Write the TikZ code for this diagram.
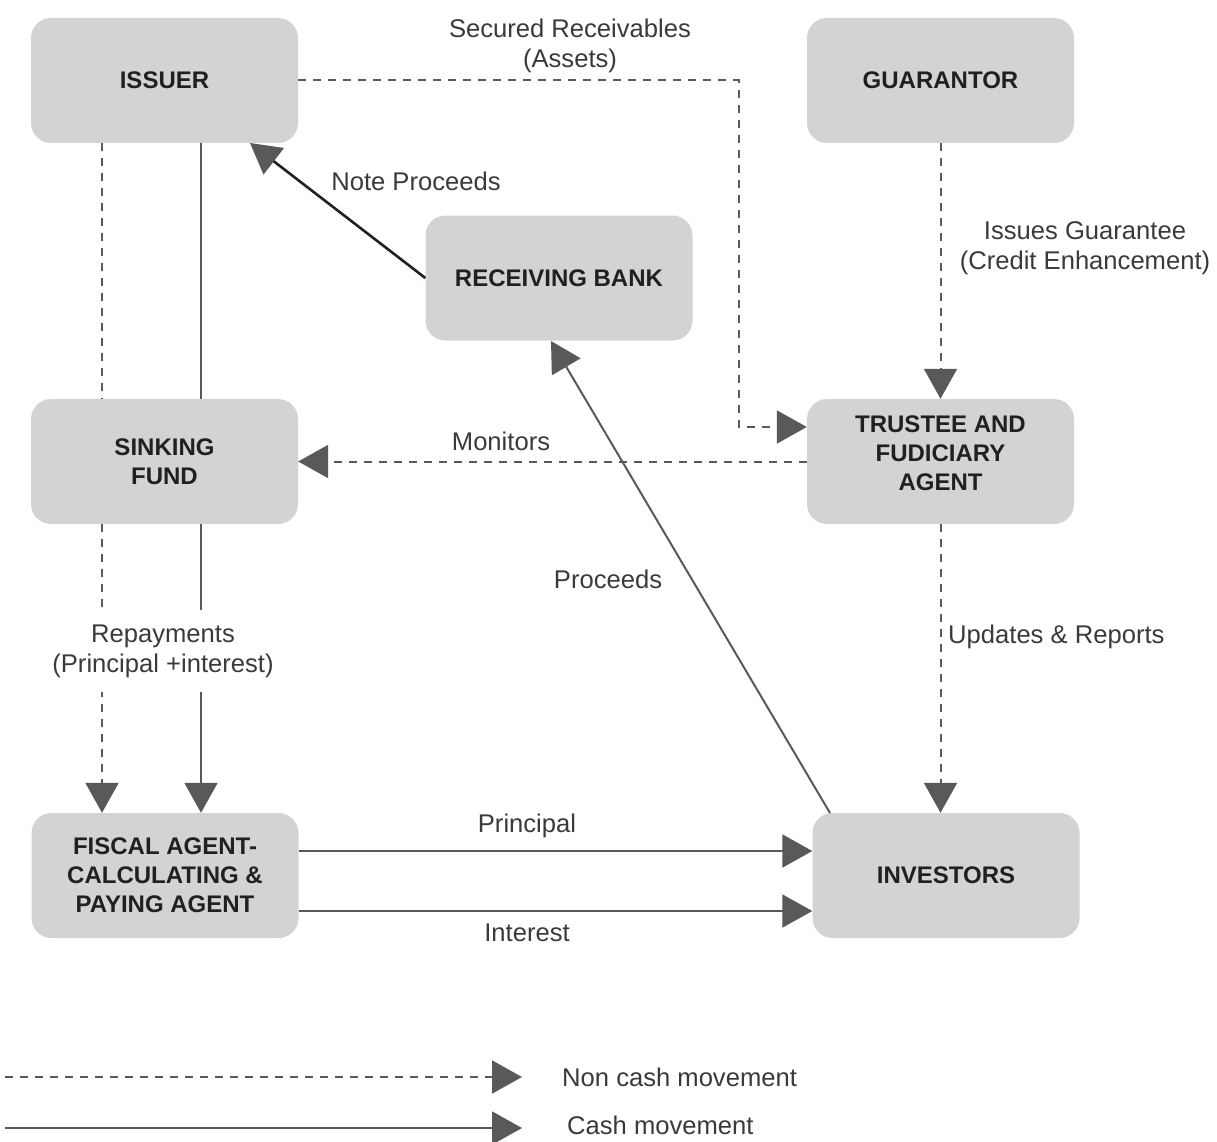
\documentclass[tikz,border=0pt]{standalone}
\usepackage{fontspec}
\setmainfont{Liberation Sans}
\usetikzlibrary{arrows.meta,calc}
\definecolor{boxgray}{HTML}{D1D3D4}
\definecolor{linegray}{HTML}{58595B}
\definecolor{txtdark}{HTML}{231F20}
\definecolor{lblcol}{HTML}{3A3A3A}
\begin{document}
\begin{tikzpicture}[x=1pt,y=-1pt,
  box/.style={rounded corners=20pt, fill=boxgray, minimum width=267pt, minimum height=125pt,
    align=center, font=\fontsize{24}{29}\selectfont\bfseries, text=txtdark, inner sep=0pt},
  boxtext/.style={align=center, font=\fontsize{24}{29}\selectfont\bfseries, text=txtdark, inner sep=0pt},
  lbl/.style={font=\fontsize{25.6}{30}\selectfont, text=lblcol, inner sep=0pt, align=center},
  tip/.style={-{Triangle[length=30pt,width=33pt,fill=linegray,color=linegray]}},
  cash/.style={draw=linegray, line width=2pt},
  noncash/.style={draw=linegray, line width=2pt, dash pattern=on 8pt off 7pt},
  darkcash/.style={draw=txtdark, line width=2.6pt}
]
\useasboundingbox (0,0) rectangle (1217,1142);

% boxes
\node[box] (issuer) at (164.5,80.5) {ISSUER};
\node[box] (guar) at (940.5,80.5) {GUARANTOR};
\node[box] (rb) at (559,278) {RECEIVING BANK};
\node[box] (sink) at (164.5,461.5) {SINKING\\FUND};
\node[box] (trustee) at (940.5,461.5) {};
\node[boxtext] (trusteetext) at (940.5,453) {TRUSTEE AND\\FUDICIARY\\AGENT};
\node[box] (fiscal) at (165,875.5) {FISCAL AGENT-\\CALCULATING \&\\PAYING AGENT};
\node[box] (inv) at (946,875.5) {INVESTORS};

% helper coordinates
\coordinate (bend) at (739,427);
\coordinate (nptip) at (250,143);
\coordinate (pstart) at (830,813);
\coordinate (ptip) at (551,341);
\coordinate (dx) at (102,0);
\coordinate (sx) at (201,0);
\coordinate (prl) at (0,851);
\coordinate (intl) at (0,911);

% connectors
\draw[noncash,tip] (issuer.east) -| (bend) -- (bend -| trustee.west);
\draw[noncash,tip] (guar.south) -- (trustee.north);
\draw[darkcash,tip] (rb.west) -- (nptip);
\draw[cash,tip] (pstart) -- (ptip);
\draw[noncash,tip] (trustee.west) -- (sink.east);
\draw[noncash,tip] (trustee.south) -- (trustee.south |- inv.north);
\draw[noncash] (issuer.south -| dx) -- (sink.north -| dx);
\draw[cash] (issuer.south -| sx) -- (sink.north -| sx);
\draw[noncash,tip] (sink.south -| dx) -- (fiscal.north -| dx);
\draw[cash,tip] (sink.south -| sx) -- (fiscal.north -| sx);
\draw[cash,tip] (fiscal.east |- prl) -- (inv.west |- prl);
\draw[cash,tip] (fiscal.east |- intl) -- (inv.west |- intl);

% labels
\node[lbl] (lsecured) at (570,46) {Secured Receivables\\(Assets)};
\node[lbl] (lnote) at (416,181) {Note Proceeds};
\node[lbl] (lguar) at (1085,248) {Issues Guarantee\\(Credit Enhancement)};
\node[lbl] (lmon) at (501,441) {Monitors};
\node[lbl] (lproc) at (608,579) {Proceeds};
\node[lbl,anchor=west] (lupd) at (948,637) {Updates \& Reports};
\node[lbl,fill=white,minimum height=82pt,inner xsep=3pt] (lrep) at (163,651) {Repayments\\(Principal +interest)};
\node[lbl] (lprin) at (527,826) {Principal};
\node[lbl] (lint) at (527,933) {Interest};

% legend
\coordinate (la) at (5,1077);
\coordinate (lb) at (522,1077);
\coordinate (lc) at (5,1128);
\coordinate (ld) at (522,1128);
\draw[noncash,tip] (la) -- (lb);
\draw[cash,tip] (lc) -- (ld);
\node[lbl,anchor=west] (lnon) at (562,1077) {Non cash movement};
\node[lbl,anchor=west] (lcash) at (567,1125) {Cash movement};
\end{tikzpicture}
\end{document}
